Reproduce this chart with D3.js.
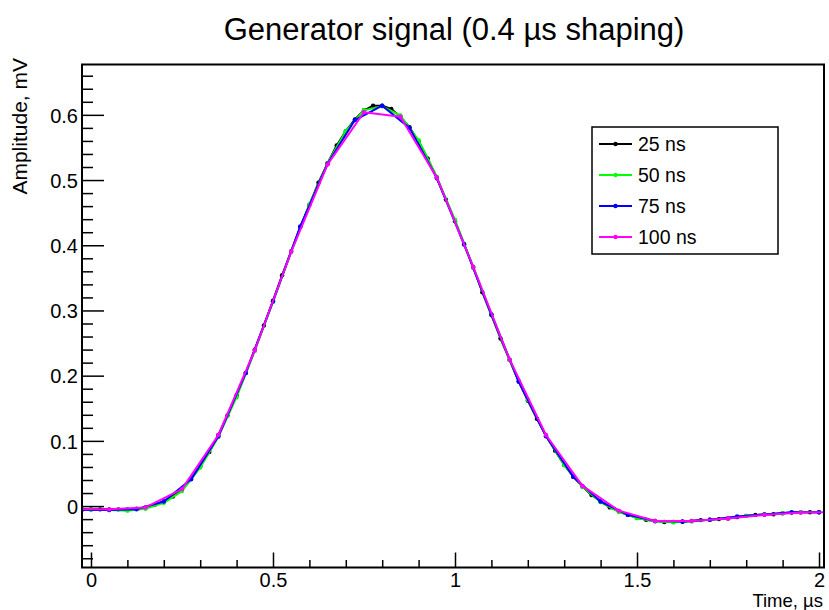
<!DOCTYPE html>
<html><head><meta charset="utf-8">
<script src="https://cdn.jsdelivr.net/npm/d3@7"></script>
<style>body{margin:0;background:#fff}svg{display:block}text{font-family:"Liberation Sans",Arial,Helvetica,sans-serif}</style>
</head><body><svg id="c" width="829" height="610"></svg>
<script>
const title = "Generator signal (0.4 \u00b5s shaping)";
const xTitle = "Time, \u00b5s";
const yTitle = "Amplitude, mV";
const seriesNames = ["25 ns","50 ns","75 ns","100 ns"];
const seriesColors = ["#000000","#00ff00","#0000ff","#ff00ff"];
const xTickLabels = [0,0.5,1,1.5,2];
const yTickLabels = [0,0.1,0.2,0.3,0.4,0.5,0.6];

const t25 = [-0.025,0,0.025,0.05,0.075,0.1,0.125,0.15,0.175,0.2,0.225,0.25,0.275,0.3,0.325,0.35,0.375,0.4,0.425,0.45,0.475,0.5,0.525,0.55,0.575,0.6,0.625,0.65,0.675,0.7,0.725,0.75,0.775,0.8,0.825,0.85,0.875,0.9,0.925,0.95,0.975,1.0,1.025,1.05,1.075,1.1,1.125,1.15,1.175,1.2,1.225,1.25,1.275,1.3,1.325,1.35,1.375,1.4,1.425,1.45,1.475,1.5,1.525,1.55,1.575,1.6,1.625,1.65,1.675,1.7,1.725,1.75,1.775,1.8,1.825,1.85,1.875,1.9,1.925,1.95,1.975,2.0];
const v25 = [-0.005,-0.005,-0.005,-0.005,-0.005,-0.005,-0.004,-0.002,0.002,0.007,0.0145,0.026,0.042,0.061,0.083,0.109,0.139,0.170,0.204,0.240,0.277,0.315,0.354,0.391,0.428,0.462,0.496,0.526,0.553,0.575,0.593,0.607,0.614,0.614,0.609,0.597,0.581,0.559,0.533,0.503,0.470,0.437,0.402,0.366,0.328,0.293,0.257,0.224,0.191,0.162,0.134,0.108,0.085,0.063,0.045,0.030,0.017,0.007,-0.002,-0.008,-0.0135,-0.018,-0.021,-0.023,-0.0245,-0.0245,-0.024,-0.023,-0.0215,-0.021,-0.020,-0.019,-0.017,-0.015,-0.0135,-0.013,-0.0125,-0.011,-0.010,-0.0095,-0.0095,-0.0095];

const t50 = [-0.05,0,0.05,0.1,0.15,0.2,0.25,0.3,0.35,0.4,0.45,0.5,0.55,0.6,0.65,0.7,0.75,0.8,0.85,0.9,0.95,1.0,1.05,1.1,1.15,1.2,1.25,1.3,1.35,1.4,1.45,1.5,1.55,1.6,1.65,1.7,1.75,1.8,1.85,1.9,1.95,2.0];
const v50 = [-0.006,-0.006,-0.006,-0.007,-0.004,0.005,0.023,0.059,0.106,0.167,0.238,0.313,0.390,0.462,0.526,0.575,0.607,0.613,0.599,0.561,0.505,0.439,0.367,0.294,0.224,0.163,0.108,0.063,0.030,0.006,-0.009,-0.0185,-0.0235,-0.0247,-0.0235,-0.021,-0.019,-0.015,-0.013,-0.011,-0.0095,-0.009];

const t75 = [-0.025,0.05,0.125,0.2,0.275,0.35,0.425,0.5,0.575,0.65,0.725,0.8,0.875,0.95,1.025,1.1,1.175,1.25,1.325,1.4,1.475,1.55,1.625,1.7,1.775,1.85,1.925,2.0];
const v75 = [-0.006,-0.006,-0.005,0.007,0.041,0.107,0.204,0.314,0.429,0.525,0.592,0.614,0.580,0.503,0.401,0.294,0.191,0.107,0.045,0.007,-0.0135,-0.023,-0.0237,-0.021,-0.016,-0.013,-0.0095,-0.0095];

const t100 = [-0.05,0.05,0.15,0.25,0.35,0.45,0.55,0.65,0.75,0.85,0.95,1.05,1.15,1.25,1.35,1.45,1.55,1.65,1.75,1.85,1.95,2.05];
const v100 = [-0.005,-0.005,-0.002,0.026,0.109,0.239,0.390,0.524,0.604,0.597,0.504,0.367,0.225,0.109,0.031,-0.007,-0.023,-0.023,-0.019,-0.0135,-0.010,-0.009];

const seriesT = [t25,t50,t75,t100];
const seriesV = [v25,v50,v75,v100];

const L = 82, R = 824, T = 64.5, B = 567.5;
const x = d3.scaleLinear().domain([-0.0247, 2.0137]).range([L, R]);
const y = d3.scaleLinear().domain([-0.0942, 0.6772]).range([B, T]);

const svg = d3.select("#c");

svg.append("defs").append("clipPath").attr("id","clip")
  .append("rect").attr("x",L).attr("y",T).attr("width",R-L).attr("height",B-T);

// Title
svg.append("text").attr("x",454).attr("y",40).attr("text-anchor","middle")
  .attr("font-size",31).attr("fill","#000").text(title);

// Series
const plot = svg.append("g").attr("clip-path","url(#clip)");
const line = d3.line().x(d=>x(d[0])).y(d=>y(d[1]));
seriesT.forEach((ts,i)=>{
  const pts = ts.map((t,j)=>[t,seriesV[i][j]]);
  const g = plot.append("g");
  g.append("path").datum(pts).attr("d",line).attr("fill","none")
    .attr("stroke",seriesColors[i]).attr("stroke-width",2).attr("stroke-linejoin","round");
  g.selectAll("circle").data(pts).join("circle")
    .attr("cx",d=>x(d[0])).attr("cy",d=>y(d[1])).attr("r",2.2).attr("fill",seriesColors[i]);
});

// Axes
const xMinor = d3.range(0,2.01,0.1).filter(v=>!xTickLabels.some(m=>Math.abs(m-v)<1e-6));
const gx = svg.append("g").attr("transform",`translate(0,${B})`);
gx.append("g").call(d3.axisBottom(x).tickValues(xMinor).tickSize(-7.5).tickFormat(""));
gx.append("g").call(d3.axisBottom(x).tickValues(xTickLabels).tickSize(-15)
  .tickFormat(d=>d3.format("")(d)));
gx.selectAll("text").attr("font-size",20).attr("fill","#000").attr("y",19.5).attr("dy","0");

const yMinor = d3.range(-0.08,0.6701,0.02).filter(v=>!yTickLabels.some(m=>Math.abs(m-v)<1e-6));
const gy = svg.append("g").attr("transform",`translate(${L},0)`);
gy.append("g").call(d3.axisLeft(y).tickValues(yMinor).tickSize(-11).tickFormat(""));
gy.append("g").call(d3.axisLeft(y).tickValues(yTickLabels).tickSize(-22).tickPadding(4)
  .tickFormat(d=>d===0?"0":d3.format(".1f")(d)));
gy.selectAll("text").attr("font-size",20).attr("fill","#000").attr("dy","0.36em");
svg.selectAll(".domain").remove();
svg.selectAll(".tick line").attr("stroke","#000").attr("stroke-width",1.5);

// Frame
svg.append("rect").attr("x",L).attr("y",T).attr("width",R-L).attr("height",B-T)
  .attr("fill","none").attr("stroke","#000").attr("stroke-width",2);

// Axis titles
svg.append("text").attr("x",823).attr("y",607).attr("text-anchor","end")
  .attr("font-size",18.5).text(xTitle);
svg.append("text").attr("transform","translate(27,58) rotate(-90)").attr("text-anchor","end")
  .attr("font-size",21).text(yTitle);

// Legend
const lg = svg.append("g");
lg.append("rect").attr("x",592).attr("y",127).attr("width",186).attr("height",127)
  .attr("fill","#fff").attr("stroke","#000").attr("stroke-width",1.5);
seriesNames.forEach((n,i)=>{
  const yy = 144 + i*31;
  lg.append("line").attr("x1",599).attr("x2",632).attr("y1",yy).attr("y2",yy)
    .attr("stroke",seriesColors[i]).attr("stroke-width",2);
  lg.append("circle").attr("cx",615.5).attr("cy",yy).attr("r",2.2).attr("fill",seriesColors[i]);
  lg.append("text").attr("x",638).attr("y",yy).attr("dy","0.35em").attr("font-size",19.5).text(n);
});
</script></body></html>
